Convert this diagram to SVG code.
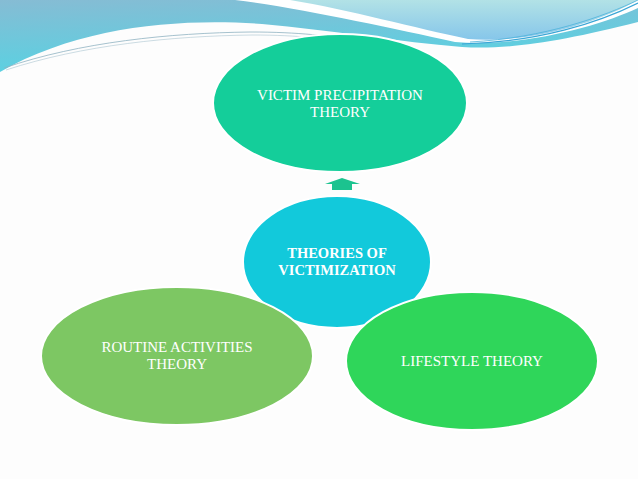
<svg xmlns="http://www.w3.org/2000/svg" width="638" height="479" viewBox="0 0 638 479">
<defs>
<linearGradient id="gBlue" x1="0" y1="0" x2="0.3" y2="1">
<stop offset="0" stop-color="#86bcd4"/>
<stop offset="1" stop-color="#58d2e2"/>
</linearGradient>
<linearGradient id="gLight" x1="0" y1="0" x2="0" y2="1">
<stop offset="0" stop-color="#b2e2e6"/>
<stop offset="1" stop-color="#86c6ea"/>
</linearGradient>
<style>
.node ellipse{stroke:#ffffff;stroke-width:2}
.lbl{font-family:"Liberation Serif","Times New Roman",serif;font-size:15px;fill:#ffffff;text-anchor:middle}
.bold{font-weight:bold;font-size:14.5px}
</style>
</defs>
<rect width="638" height="479" fill="#fdfdfd"/>
<g id="background">
<path d="M0,0 L638,0 L638,22 C560,42 505,50 462,47 C400,42 330,30 262,24 C180,18 80,26 0,72 Z" fill="url(#gBlue)"/>
<path d="M235,0 C300,8 390,28 455,42 C520,48 600,26 638,8 L638,0 Z" fill="#ffffff"/>
<path d="M290,0 C350,10 415,28 468,39 C530,44 600,22 638,0 Z" fill="url(#gLight)"/>
<path d="M462,44 C540,42 600,22 638,3" fill="none" stroke="#3aa6d6" stroke-width="1.2"/>
<path d="M470,42 C545,38 605,16 638,0" fill="none" stroke="#4cb2da" stroke-width="0.8"/>
<path d="M4,68 C80,42 170,33 250,32 C300,32 330,36 360,41" fill="none" stroke="#8fb2c2" stroke-width="0.8"/>
<path d="M6,70 C82,45 172,36 252,35 C300,35 330,39 360,44" fill="none" stroke="#a9c4d0" stroke-width="0.6"/>
</g>
<g id="connectors">
<path d="M342,178 L360,184 L352,184 L352,190 L332,190 L332,184 L325,184 Z" fill="#1cc38f"/>
</g>
<g id="node-center" class="node">
<ellipse cx="337" cy="262" rx="94" ry="66" fill="#12c9db"/>
<text class="lbl bold" x="337" y="258">THEORIES OF</text>
<text class="lbl bold" x="337" y="275">VICTIMIZATION</text>
</g>
<g id="node-top" class="node">
<ellipse cx="340" cy="103" rx="127" ry="69" fill="#14ce9a"/>
<text class="lbl" x="340" y="100">VICTIM PRECIPITATION</text>
<text class="lbl" x="340" y="117">THEORY</text>
</g>
<g id="node-left" class="node">
<ellipse cx="177" cy="356" rx="136" ry="69" fill="#7dc763"/>
<text class="lbl" x="177" y="352">ROUTINE ACTIVITIES</text>
<text class="lbl" x="177" y="369">THEORY</text>
</g>
<g id="node-right" class="node">
<ellipse cx="472" cy="361" rx="126" ry="69" fill="#2fd65a"/>
<text class="lbl" x="472" y="366">LIFESTYLE THEORY</text>
</g>
</svg>
